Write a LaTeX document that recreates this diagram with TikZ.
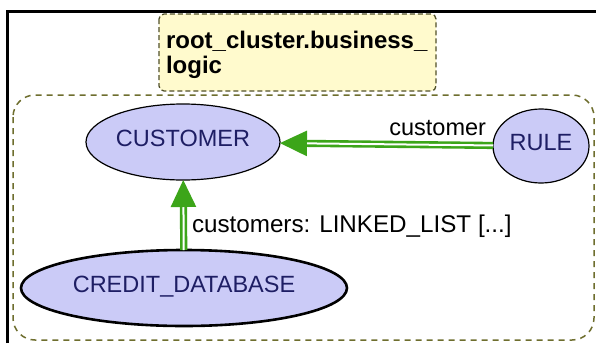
\documentclass[tikz,border=0pt]{standalone}
\usepackage{fontspec}
\setmainfont{Liberation Sans}
\usetikzlibrary{shapes.geometric,arrows.meta}

\definecolor{ccbcbf7}{RGB}{203,203,247}
\definecolor{c1e1e64}{RGB}{30,30,100}
\definecolor{cfffacd}{RGB}{255,250,205}
\definecolor{c6e6e2e}{RGB}{110,110,46}
\definecolor{c50502a}{RGB}{80,80,42}
\definecolor{c3ca01e}{RGB}{60,165,25}

\tikzset{
  classnode/.style={ellipse, draw=black, fill=ccbcbf7, text=c1e1e64,
    line width=1.2pt, text depth=7pt},
  clientlink/.style={draw=c3ca01e, double=white, double distance=2pt,
    line width=2.6pt, -{Triangle[length=27pt,width=25pt]}},
  linklabel/.style={text=black},
  titletext/.style={anchor=base west, font=\fontsize{24}{26}\selectfont\bfseries},
}

\begin{document}
\begin{tikzpicture}[y=-1pt, x=1pt, inner sep=0pt, outer sep=0pt,
  every node/.append style={font=\fontsize{23.5}{25}\selectfont}]
  \useasboundingbox (0, 0) rectangle (596, 343);
  \path[fill=white] (0, 0) rectangle (596, 343);

  % window frame
  \path[draw=black,line width=3pt] (7.5, 343) -- (7.5, 11) -- (596, 11);

  % cluster
  \path[draw=c6e6e2e,line width=1.5pt,dash pattern=on 6pt off 5pt,
  rounded corners=22pt] (13, 95) rectangle (594, 340);

  % cluster name
  \path[draw=c50502a,fill=cfffacd,line width=1.3pt,dash pattern=on 5pt off 3pt,
  rounded corners=5pt] (159, 14) rectangle (436, 91);
  \node[titletext] (title1) at (166, 48){root\_cluster.business\_};
  \node[titletext] (title2) at (166, 73){logic};

  % classes
  \node[classnode,minimum width=194pt,minimum height=76pt] (customer) at (183, 142){CUSTOMER};
  \node[classnode,minimum width=96pt,minimum height=74pt] (rule) at (541, 146){RULE};
  \node[classnode,line width=2.6pt,minimum width=326pt,minimum height=76pt] (creditdb) at (184, 288){CREDIT\_DATABASE};

  % client links
  \draw[clientlink] (rule) -- (customer);
  \draw[clientlink] (creditdb) -- (customer);

  \node[linklabel,anchor=base east] (lblcustomer) at (486, 135){customer};
  \node[linklabel,anchor=base west,font=\fontsize{24.2}{26}\selectfont] (lblcustomers) at (192, 232){customers: LINKED\_LIST [...]};

\end{tikzpicture}
\end{document}
